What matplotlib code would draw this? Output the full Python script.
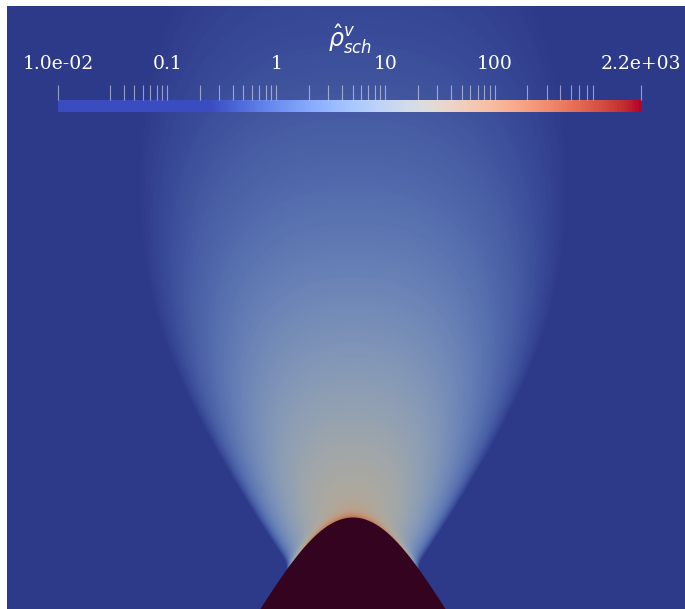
import numpy as np
import matplotlib
matplotlib.use("Agg")
import matplotlib.pyplot as plt
from matplotlib.colors import LogNorm, ListedColormap
from matplotlib.cm import ScalarMappable

plt.rcParams["mathtext.fontset"] = "dejavusans"

# scalar bar range and ticks
vmin, vmax = 1.0e-2, 2.2e3
major_ticks = [1.0e-2, 0.1, 1.0, 10.0, 100.0, 2.2e3]
major_labels = ["1.0e-02", "0.1", "1", "10", "100", "2.2e+03"]
minor_ticks = [0.03, 0.04, 0.05, 0.06, 0.07, 0.08, 0.09,
               0.2, 0.3, 0.4, 0.5, 0.6, 0.7, 0.8, 0.9,
               2, 3, 4, 5, 6, 7, 8, 9,
               20, 30, 40, 50, 60, 70, 80, 90,
               200, 300, 400, 500, 600, 700, 800]
bar_title = r"$\hat{\rho}^{v}_{sch}$"
cmap_start = 0.26        # fraction of the bar held at the cold end

# bump geometry (view units = pixels of the render window)
bump_x0 = 352.5          # crest position
bump_crest = 517.0       # crest height (screen y)
bump_amp = 242.0         # gaussian amplitude
bump_sigma = 95.0        # gaussian width
frame_bottom = 609.0

# plume parameters: log10 value on the axis vs distance d from the crest
axis_c0, axis_c1, axis_c2 = 1.55, -6.2e-3, 4.5e-6
apex = (353.0, 660.0)    # vertex of the plume cone
cone_half_angle = 0.575  # radians
cone_softness = 0.045
lateral_drop = 1.0       # log10 drop across the cone
lateral_power = 3.0
wall_boost = 0.85        # extra log10 value in the wall layer
wall_thickness = 4.5

shade = np.array([0.78, 0.765, 0.72])   # scene lighting on the field colours
bump_color = "#33031f"

W, H = 685, 609
x0, y0 = 7, 6            # viewport offset inside the figure

fig = plt.figure(figsize=(W / 100, H / 100), dpi=100)
ax = fig.add_axes([x0 / W, 0, (W - x0) / W, (H - y0) / H])
ax.set_xlim(x0, W)
ax.set_ylim(H, y0)
ax.axis("off")


def bump_y(x):
    return frame_bottom - (bump_amp * np.exp(-(x - bump_x0) ** 2 / (2 * bump_sigma ** 2))
                           - (bump_amp - (frame_bottom - bump_crest)))


# cool-to-warm map with the cold end stretched over the low part of the bar
base = plt.get_cmap("coolwarm")
t = np.linspace(0, 1, 512)
cmap = ListedColormap(base(np.clip((t - cmap_start) / (1 - cmap_start), 0, 1)))

xs = np.arange(x0, W) + 0.5
ys = np.arange(y0, H) + 0.5
X, Y = np.meshgrid(xs, ys)

d = np.hypot(X - bump_x0, Y - bump_crest)
theta = np.arctan2(np.abs(X - apex[0]), apex[1] - Y)

axis_val = axis_c0 + axis_c1 * d + axis_c2 * d ** 2
cone = 0.5 * (1 - np.tanh((theta - cone_half_angle) / cone_softness))
s = np.clip(bump_y(X) - Y, 0, None)
wall = wall_boost * np.exp(-s / wall_thickness)

logv = (axis_val + wall
        - lateral_drop * (theta / cone_half_angle) ** lateral_power
        + np.log10(np.clip(cone, 1e-8, None)))
field = 10 ** logv

norm = LogNorm(vmin=vmin, vmax=vmax)
rgb = cmap(norm(np.clip(field, vmin, vmax)))[..., :3] * shade
ax.imshow(rgb, extent=(x0, W, H, y0), interpolation="bilinear", zorder=1)

bx = np.linspace(x0, W, 800)
ax.fill_between(bx, bump_y(bx), H + 5, color=bump_color, lw=0, zorder=2)

# scalar bar
bar_l, bar_r, bar_top, bar_bot = 58, 641, 100, 111.5
cax = fig.add_axes([bar_l / W, 1 - bar_bot / H, (bar_r - bar_l) / W, (bar_bot - bar_top) / H])
cb = fig.colorbar(ScalarMappable(norm=norm, cmap=cmap), cax=cax, orientation="horizontal")
cb.outline.set_visible(False)
cax.xaxis.set_ticks_position("top")
cax.set_xticks(major_ticks, labels=major_labels)
cax.set_xticks(minor_ticks, minor=True)
cax.tick_params(axis="x", which="both", direction="out", length=11, width=0.8,
                color=(1, 1, 1, 0.5), labelcolor="white", pad=8.5)
for lab in cax.get_xticklabels():
    lab.set_fontfamily("DejaVu Serif")
    lab.set_fontsize(13.5)

fig.text(350 / W, 1 - 39 / H, bar_title, color="white", fontsize=17,
         ha="center", va="center")

fig.savefig("out.png", dpi=100, facecolor="white")
